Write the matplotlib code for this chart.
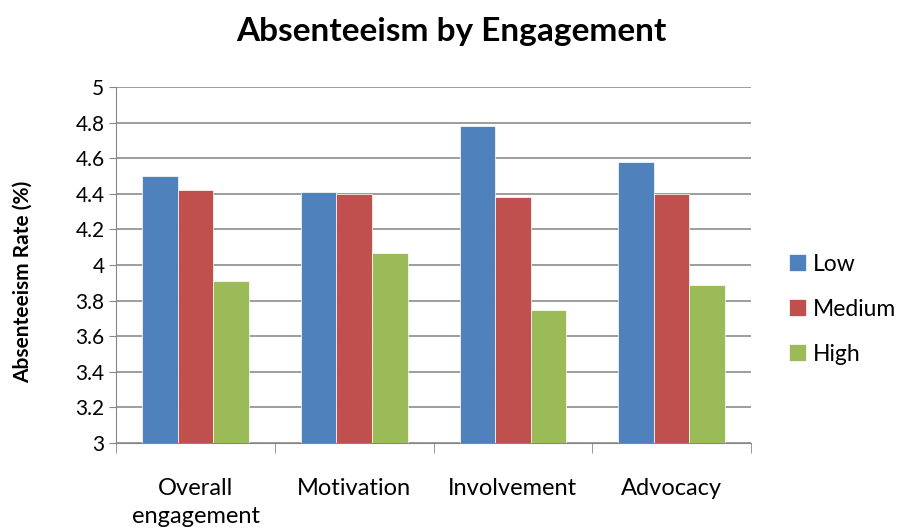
import numpy as np
import matplotlib
matplotlib.use("Agg")
import matplotlib.pyplot as plt

plt.rcParams['font.family'] = ['Lato', 'DejaVu Sans']

# Data
categories = ["Overall\nengagement", "Motivation", "Involvement", "Advocacy"]
low = [4.50, 4.41, 4.78, 4.58]
medium = [4.42, 4.40, 4.38, 4.40]
high = [3.91, 4.07, 3.75, 3.89]
series_names = ["Low", "Medium", "High"]
colors = ["#4F81BD", "#C0504D", "#9BBB59"]

fig = plt.figure(figsize=(9.08, 5.28), dpi=100)
ax = fig.add_axes([0.128, 0.161, 0.699, 0.674])

x = np.arange(len(categories))
w = 0.224
for i, (vals, name, c) in enumerate(zip([low, medium, high], series_names, colors)):
    ax.bar(x + (i - 1) * w, vals, width=w, color=c, label=name,
           edgecolor='white', linewidth=0.5, zorder=3)

ax.set_ylim(3, 5)
ax.set_yticks(np.arange(3, 5.01, 0.2))
ax.set_yticklabels(['3', '3.2', '3.4', '3.6', '3.8', '4', '4.2', '4.4', '4.6', '4.8', '5'])
ax.set_xlim(-0.5, len(categories) - 0.5)
ax.set_xticks(x)
ax.set_xticklabels(categories, fontsize=17, linespacing=1.45)
ax.set_xticks(np.arange(-0.5, len(categories)), minor=True)
ax.tick_params(axis='x', which='major', length=0, pad=25)
ax.tick_params(axis='x', which='minor', length=7, color='#868686', direction='out')
ax.tick_params(axis='y', labelsize=15, length=5, color='#868686', direction='out')

ax.grid(axis='y', color='#8c8c8c', linewidth=1.2, zorder=0)
for s in ['top', 'right']:
    ax.spines[s].set_visible(False)
ax.spines['left'].set_color('#868686')
ax.spines['bottom'].set_color('#868686')

ax.set_ylabel("Absenteeism Rate (%)", fontsize=15, fontweight='bold', va='center')
ax.yaxis.set_label_coords(-0.148, 0.452)
fig.text(0.497, 0.94, "Absenteeism by Engagement", fontsize=24, fontweight='bold',
         ha='center', va='center')

ax.legend(loc='center left', bbox_to_anchor=(1.035, 0.376), frameon=False,
          fontsize=16.5, handlelength=0.75, handleheight=0.75, labelspacing=1.05,
          handletextpad=0.3, borderpad=0.2)

fig.savefig("out.png", dpi=100)
